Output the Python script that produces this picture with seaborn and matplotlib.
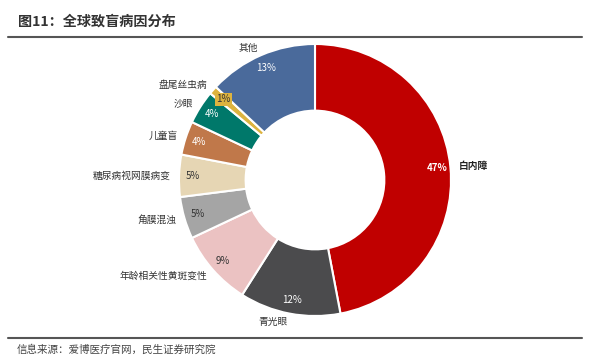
import matplotlib
matplotlib.use("Agg")
import matplotlib.pyplot as plt
import seaborn as sns

# 数据
causes = ["白内障", "青光眼", "年龄相关性黄斑变性", "角膜混浊", "糖尿病视网膜病变",
          "儿童盲", "沙眼", "盘尾丝虫病", "其他"]
shares = [47, 12, 9, 5, 5, 4, 4, 1, 13]
colors = ["#C00000", "#4B4B4D", "#EBC2C2", "#A5A5A5", "#E6D6B4",
          "#C0784A", "#00786A", "#DDB33F", "#4A6A9B"]
pct_colors = ["white", "white", "#333333", "#333333", "#333333",
              "white", "white", "#333333", "white"]

sns.set_theme(style="white")
plt.rcParams["font.family"] = ["Noto Sans CJK SC", "DejaVu Sans"]
plt.rcParams["axes.unicode_minus"] = False

fig = plt.figure(figsize=(5.97, 3.63), dpi=100)
W, H = 597, 363

# 标题与分隔线
fig.text(18 / W, 1 - 22 / H, "图11：全球致盲病因分布", fontsize=10.2, fontweight="bold",
         color="#333333", va="center", ha="left")
fig.add_artist(plt.Line2D([8 / W, 582 / W], [1 - 37 / H, 1 - 37 / H], color="#555555", lw=1.5))
fig.add_artist(plt.Line2D([8 / W, 582 / W], [1 - 338 / H, 1 - 338 / H], color="#555555", lw=1.5))
fig.text(17 / W, 1 - 350 / H, "信息来源：爱博医疗官网，民生证券研究院", fontsize=7.6,
         color="#444444", va="center", ha="left")

# 环形图
cx, cy, r = 315, 180, 136
ax = fig.add_axes([(cx - r) / W, (H - cy - r) / H, 2 * r / W, 2 * r / H])
wedges, texts, autotexts = ax.pie(
    shares, labels=causes, colors=colors, startangle=90, counterclock=False,
    autopct="%d%%", pctdistance=0.9, labeldistance=1.06,
    wedgeprops=dict(width=0.49, edgecolor="white", linewidth=1.5),
    textprops=dict(fontsize=7, color="#333333"))
ax.set_xlim(-1, 1)
ax.set_ylim(-1, 1)
ax.set_aspect("equal")
ax.axis("off")

for t, c in zip(autotexts, pct_colors):
    t.set_color(c)
    t.set_fontsize(7)
autotexts[0].set_fontweight("bold")
texts[0].set_fontweight("bold")
texts[0].set_color("#222222")
# 1% 标签加底色
autotexts[7].set_bbox(dict(boxstyle="square,pad=0.15", facecolor="#DDB33F", edgecolor="none"))

fig.savefig("out.png", dpi=100)
